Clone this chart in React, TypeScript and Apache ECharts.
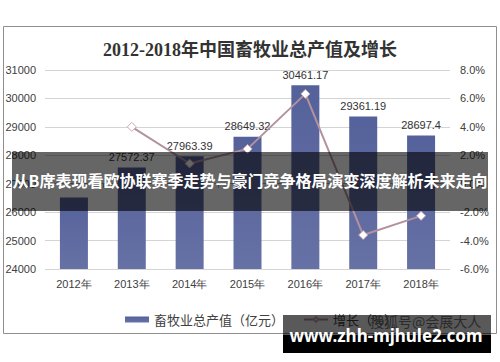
import React, { useEffect, useRef } from 'react';
import * as echarts from 'echarts';

const categories = ['2012年', '2013年', '2014年', '2015年', '2016年', '2017年', '2018年'];
const outputValues = [26512, 27572.37, 27963.39, 28649.32, 30461.17, 29361.19, 28697.4];
const growthValues: (number | null)[] = [null, 4.0, 1.42, 2.45, 6.32, -3.61, -2.26];
const leftAxisTicks = [24000, 25000, 26000, 27000, 28000, 29000, 30000, 31000];
const rightAxisTicks = [-6, -4, -2, 0, 2, 4, 6, 8];

const titleText = '2012-2018年中国畜牧业总产值及增长';
const barName = '畜牧业总产值（亿元）';
const lineName = '增长（%）';
const bannerText = '从B席表现看欧协联赛季走势与豪门竞争格局演变深度解析未来走向';
const watermarkSmall = '搜狐号@会展大人';
const watermarkUrl = 'www.zhh-mjhule2.com';

export default function App() {
  const ref = useRef<HTMLDivElement>(null);
  useEffect(() => {
    if (!ref.current) return;
    const chart = echarts.init(ref.current, undefined, { renderer: 'svg' });
    const axisFont = 'Arial, "Liberation Sans", sans-serif';
    const cjkFont = '"Noto Sans CJK SC", sans-serif';
    chart.setOption({
      animation: false,
      backgroundColor: '#ffffff',
      title: {
        text: titleText,
        left: 'center',
        top: 36,
        textStyle: {
          fontFamily: '"Liberation Serif", "Noto Sans CJK SC", serif',
          fontSize: 18,
          fontWeight: 'bold',
          color: '#333333',
        },
      },
      legend: {
        left: 120,
        top: 308,
        itemGap: 19,
        itemWidth: 24,
        itemHeight: 6,
        data: [{ name: barName, icon: 'rect' }, { name: lineName }],
        textStyle: { fontFamily: cjkFont, fontSize: 13, color: '#404040' },
      },
      grid: { left: 45, right: 50, top: 70, bottom: 93 },
      xAxis: {
        type: 'category',
        data: categories,
        axisLine: { lineStyle: { color: '#a6a6a6' } },
        axisTick: { show: true, length: 4, lineStyle: { color: '#a6a6a6' } },
        axisLabel: { margin: 9, fontSize: 11, color: '#404040', fontFamily: axisFont },
      },
      yAxis: [
        {
          type: 'value',
          min: leftAxisTicks[0],
          max: leftAxisTicks[leftAxisTicks.length - 1],
          interval: leftAxisTicks[1] - leftAxisTicks[0],
          axisLine: { show: false },
          axisTick: { show: false },
          axisLabel: {
            margin: 9,
            fontSize: 11,
            color: '#404040',
            fontFamily: axisFont,
            formatter: (v: number) => String(v),
          },
          splitLine: { lineStyle: { color: '#d4d4d4' } },
        },
        {
          type: 'value',
          min: rightAxisTicks[0],
          max: rightAxisTicks[rightAxisTicks.length - 1],
          interval: rightAxisTicks[1] - rightAxisTicks[0],
          axisLine: { show: false },
          axisTick: { show: false },
          splitLine: { show: false },
          axisLabel: {
            margin: 10,
            fontSize: 11,
            color: '#404040',
            fontFamily: axisFont,
            formatter: (v: number) => v.toFixed(1) + '%',
          },
        },
      ],
      series: [
        {
          name: barName,
          type: 'bar',
          data: outputValues.map((v, i) =>
            i === 0 ? { value: v, label: { show: false } } : v
          ),
          barWidth: 28,
          itemStyle: {
            color: new echarts.graphic.LinearGradient(0, 0, 0, 1, [
              { offset: 0, color: '#55619a' },
              { offset: 1, color: '#6672a5' },
            ]),
          },
          label: {
            show: true,
            position: 'top',
            distance: 5,
            fontSize: 11,
            color: '#333333',
            fontFamily: axisFont,
            formatter: (p: any) => String(p.value),
          },
        },
        {
          name: lineName,
          type: 'line',
          yAxisIndex: 1,
          data: growthValues,
          symbol: 'diamond',
          symbolSize: 9,
          lineStyle: { color: '#b3929d', width: 2 },
          itemStyle: { color: '#ffffff', borderColor: '#c9abb6', borderWidth: 1 },
        },
      ],
      graphic: [
        {
          type: 'rect',
          z: 50,
          shape: { x: 3.5, y: 26.5, width: 493, height: 307 },
          style: { fill: 'none', stroke: '#8f8f8f', lineWidth: 1 },
        },
        {
          type: 'rect',
          z: 100,
          shape: { x: 12, y: 152, width: 476, height: 59 },
          style: { fill: 'rgba(0,0,0,0.6)' },
        },
        {
          type: 'text',
          z: 101,
          x: 250,
          y: 180,
          style: {
            text: bannerText,
            fill: '#ffffff',
            font: 'bold 16px "Noto Sans CJK SC", sans-serif',
            align: 'center',
            verticalAlign: 'middle',
          },
        },
        {
          type: 'rect',
          z: 100,
          shape: { x: 283, y: 315, width: 208, height: 20 },
          style: { fill: 'rgba(0,0,0,0.65)' },
        },
        {
          type: 'text',
          z: 101,
          x: 370,
          y: 321,
          style: {
            text: watermarkSmall,
            fill: '#2b2b2b',
            font: '14px "Noto Sans CJK SC", sans-serif',
            align: 'left',
            verticalAlign: 'middle',
          },
        },
        {
          type: 'rect',
          z: 102,
          shape: { x: 283, y: 335, width: 208, height: 18 },
          style: { fill: '#000000' },
        },
        {
          type: 'text',
          z: 103,
          x: 386,
          y: 335,
          style: {
            text: watermarkUrl,
            fill: '#ffffff',
            font: 'bold 17px "Noto Sans", sans-serif',
            align: 'center',
            verticalAlign: 'middle',
          },
        },
      ],
    });
    return () => chart.dispose();
  }, []);
  return (
    <div
      ref={ref}
      style={{ position: 'fixed', left: 0, top: 0, width: 500, height: 362 }}
    />
  );
}
